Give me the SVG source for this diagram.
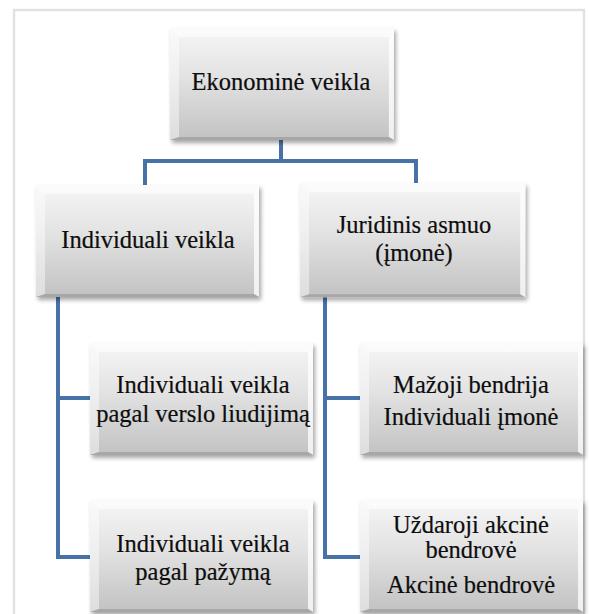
<svg xmlns="http://www.w3.org/2000/svg" xmlns:xlink="http://www.w3.org/1999/xlink" width="589" height="614" viewBox="0 0 589 614">
  <defs>
    <linearGradient id="face" x1="0" y1="0" x2="0" y2="1">
      <stop offset="0" stop-color="#f6f6f6"/>
      <stop offset="0.45" stop-color="#e2e2e2"/>
      <stop offset="1" stop-color="#c2c2c2"/>
    </linearGradient>
    <filter id="shadow" x="-10%" y="-10%" width="125%" height="130%">
      <feDropShadow dx="2" dy="3" stdDeviation="2" flood-color="#000" flood-opacity="0.35"/>
    </filter>
    <!-- bevelled box, 223 x 112 -->
    <g id="box">
      <rect x="0" y="0" width="223" height="112" fill="url(#face)" filter="url(#shadow)"/>
      <polygon points="0,0 223,0 218,9 9,9" fill="#ffffff" opacity="0.6"/>
      <polygon points="0,0 9,9 9,109 0,112" fill="#ffffff" opacity="0.45"/>
      <polygon points="223,0 223,112 218,109 218,9" fill="#ffffff" opacity="0.75"/>
      <polygon points="0,112 223,112 218,109 9,109" fill="#8c8c8c" opacity="0.5"/>
    </g>
  </defs>
  <style>
    text { font-family: 'Liberation Serif', 'DejaVu Serif', serif; font-size: 24.5px; fill: #0d0d0d; stroke: #0d0d0d; stroke-width: 0.2; text-anchor: middle; }
    .conn { fill: none; stroke: #4672a8; stroke-width: 4; }
  </style>

  <rect x="0" y="0" width="589" height="614" fill="#ffffff"/>
  <rect x="14" y="10" width="570" height="612" fill="#ffffff" stroke="#e2e2e2" stroke-width="2.5"/>

  <g id="connectors">
    <path class="conn" d="M281,140 V161"/>
    <path class="conn" d="M145,185 V161 H416 V183"/>
    <path class="conn" d="M58,297 V557 H90 M58,398 H90"/>
    <path class="conn" d="M325,297 V557 H360 M325,398 H360"/>
  </g>

  <g font-family="Liberation Serif, serif">
    <g id="ekonomine-veikla">
      <use xlink:href="#box" transform="translate(170,28) scale(1.004,1)"/>
      <text x="281" y="90">Ekonominė veikla</text>
    </g>

    <g id="individuali-veikla">
      <use xlink:href="#box" transform="translate(36,185)"/>
      <text x="148" y="248">Individuali veikla</text>
    </g>

    <g id="juridinis-asmuo">
      <use xlink:href="#box" transform="translate(300,183) scale(1.01,1.02)"/>
      <text x="414" y="233">Juridinis asmuo</text>
      <text x="414" y="261">(įmonė)</text>
    </g>

    <g id="verslo-liudijimas">
      <use xlink:href="#box" transform="translate(90,343)"/>
      <text x="203" y="393">Individuali veikla</text>
      <text x="203" y="422">pagal verslo liudijimą</text>
    </g>

    <g id="mb-ii">
      <use xlink:href="#box" transform="translate(360,343)"/>
      <text x="471" y="393">Mažoji bendrija</text>
      <text x="471" y="425">Individuali įmonė</text>
    </g>

    <g id="pazyma">
      <use xlink:href="#box" transform="translate(90,500)"/>
      <text x="203" y="552">Individuali veikla</text>
      <text x="203" y="580">pagal pažymą</text>
    </g>

    <g id="uab-ab">
      <use xlink:href="#box" transform="translate(360,500)"/>
      <text x="471" y="533">Uždaroji akcinė</text>
      <text x="471" y="558">bendrovė</text>
      <text x="471" y="593">Akcinė bendrovė</text>
    </g>
  </g>
</svg>
